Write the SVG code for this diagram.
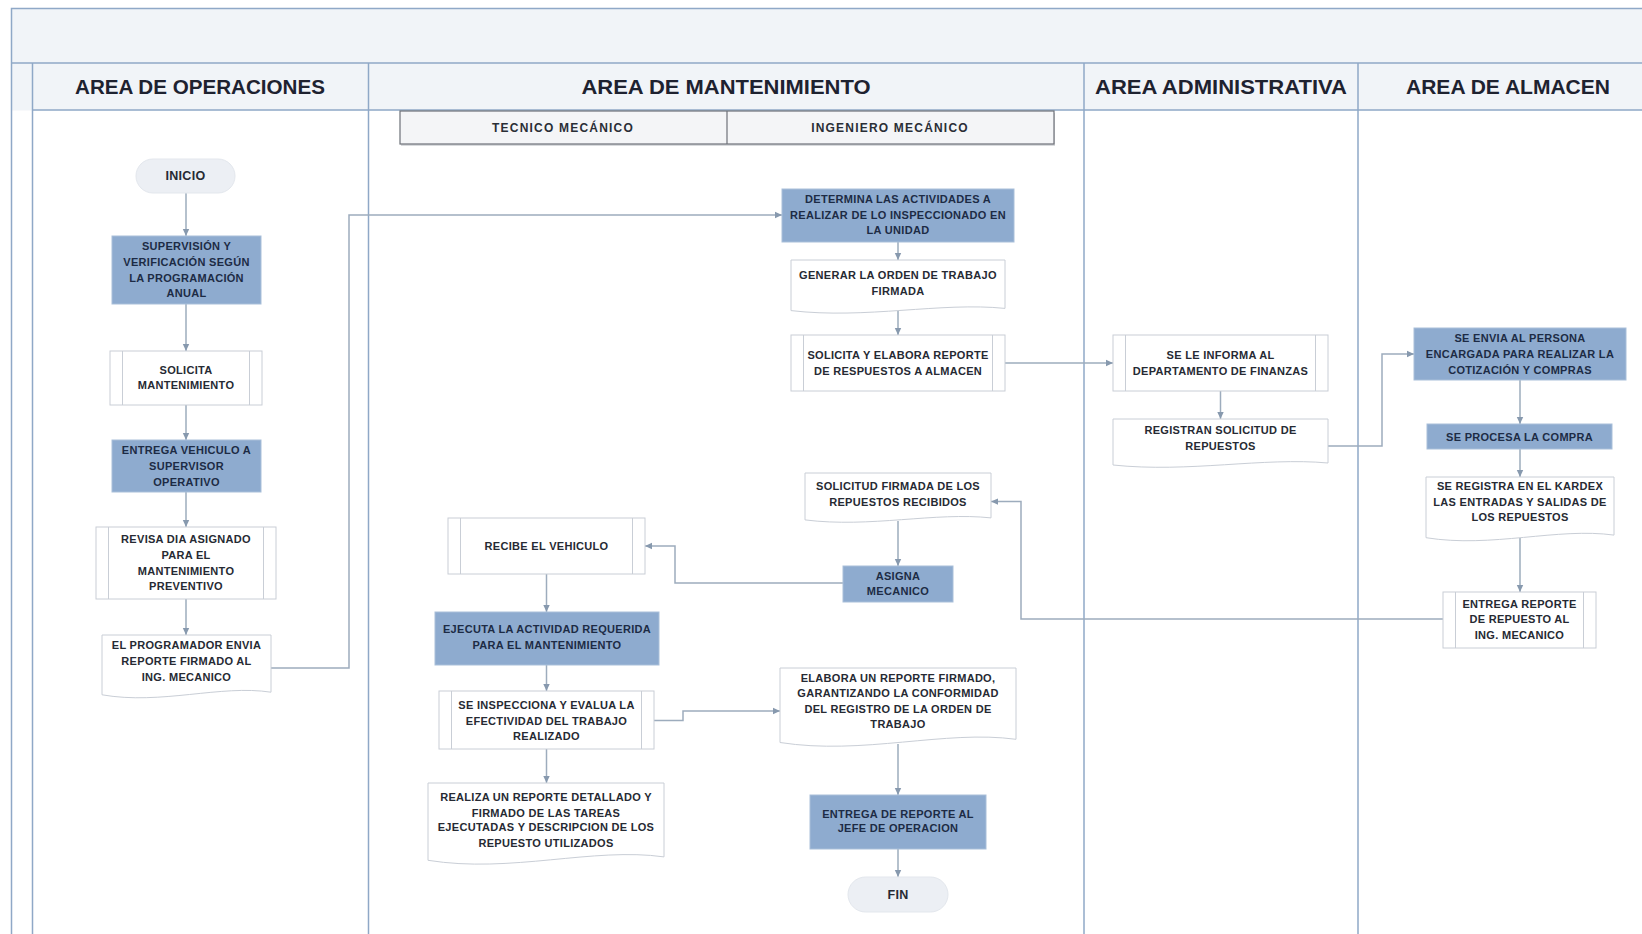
<svg xmlns="http://www.w3.org/2000/svg" width="1642" height="934" viewBox="0 0 1642 934">
<style>
.bg{fill:#ffffff}
.band{fill:#f1f4f8}
.lane{stroke:#8fa8c7;stroke-width:1.5;fill:none}
.box{fill:#ffffff;stroke:#c9ced6;stroke-width:1}
.pp{stroke:#c9ced6;stroke-width:1;fill:none}
.blue{fill:#8eabcf;stroke:#a9bfd9;stroke-width:1}
.term{fill:#eceff4;stroke:#e3e7ed;stroke-width:1}
.t{font-family:"Liberation Sans",Arial,sans-serif;font-weight:bold;font-size:11px;letter-spacing:0.3px;fill:#262a33;text-anchor:middle;dominant-baseline:central}
.tb{fill:#1d2b45}
.title{font-family:"Liberation Sans",Arial,sans-serif;font-weight:bold;font-size:20px;fill:#1e2230;text-anchor:middle;dominant-baseline:central}
.sub{font-family:"Liberation Sans",Arial,sans-serif;font-weight:bold;font-size:12px;letter-spacing:1.2px;fill:#2a2e36;text-anchor:middle;dominant-baseline:central}
.conn{stroke:#9dacbd;stroke-width:1.5;fill:none;marker-end:url(#arr)}
</style>
<defs>
<marker id="arr" markerUnits="userSpaceOnUse" markerWidth="8" markerHeight="8" refX="7" refY="4" orient="auto">
<path d="M0,0.8 L7,4 L0,7.2 Z" fill="#8799ae"/>
</marker>
</defs>
<rect class="bg" x="0" y="0" width="1642" height="934"/>
<g id="frame">
<rect class="band" x="11.5" y="8.5" width="1640" height="102"/>
<rect class="lane" x="11.5" y="8.5" width="1640" height="940"/>
<line class="lane" x1="11.5" y1="63" x2="1642" y2="63"/>
<line class="lane" x1="32.5" y1="110" x2="1642" y2="110"/>
<line class="lane" x1="32.5" y1="63" x2="32.5" y2="934"/>
<line class="lane" x1="368.5" y1="63" x2="368.5" y2="934"/>
<line class="lane" x1="1084" y1="63" x2="1084" y2="934"/>
<line class="lane" x1="1358" y1="63" x2="1358" y2="934"/>
<text class="title" x="200" y="87" textLength="250" lengthAdjust="spacingAndGlyphs">AREA DE OPERACIONES</text>
<text class="title" x="726" y="87" textLength="289" lengthAdjust="spacingAndGlyphs">AREA DE MANTENIMIENTO</text>
<text class="title" x="1221" y="87" textLength="252" lengthAdjust="spacingAndGlyphs">AREA ADMINISTRATIVA</text>
<text class="title" x="1508" y="87" textLength="204" lengthAdjust="spacingAndGlyphs">AREA DE ALMACEN</text>
</g>
<g id="subheader">
<rect x="401" y="113" width="654" height="33" fill="#d8dadd"/>
<rect x="400" y="111" width="654" height="33" fill="#f4f5f7" stroke="#6d7178" stroke-width="1.2"/>
<line x1="727" y1="111" x2="727" y2="144" stroke="#6d7178" stroke-width="1.2"/>
<text class="sub" x="563" y="127.5">TECNICO MECÁNICO</text>
<text class="sub" x="890" y="127.5">INGENIERO MECÁNICO</text>
</g>
<g id="connectors">
<path class="conn" d="M186,193 V236"/>
<path class="conn" d="M186,304 V351"/>
<path class="conn" d="M186,405 V440"/>
<path class="conn" d="M186,492 V527"/>
<path class="conn" d="M186,599 V635"/>
<path class="conn" d="M271,668 H349 V215 H782"/>
<path class="conn" d="M898,242 V260"/>
<path class="conn" d="M898,311 V335"/>
<path class="conn" d="M1005,363 H1113"/>
<path class="conn" d="M1220.5,391 V419"/>
<path class="conn" d="M1328,446 H1382 V354 H1414"/>
<path class="conn" d="M1520,380 V424"/>
<path class="conn" d="M1520,449 V477"/>
<path class="conn" d="M1520,538 V592"/>
<path class="conn" d="M1443,619 H1021 V501.6 H991"/>
<path class="conn" d="M898,521 V566"/>
<path class="conn" d="M843,583 H675 V546 H645"/>
<path class="conn" d="M546.5,574 V612"/>
<path class="conn" d="M546.5,665 V691"/>
<path class="conn" d="M654,720.5 H683 V711 H780"/>
<path class="conn" d="M546.5,749 V783"/>
<path class="conn" d="M898,744 V795"/>
<path class="conn" d="M898,849 V877"/>
</g>
<g id="inicio">
<rect class="term" x="136" y="159" width="99" height="34" rx="17"/>
<text class="t" x="185.5" y="176" style="font-size:12.5px">INICIO</text>
</g>
<g id="supervision">
<rect class="blue" x="112" y="236" width="149" height="68"/>
<text class="t tb" x="186.5" y="246.3">SUPERVISIÓN Y</text>
<text class="t tb" x="186.5" y="262">VERIFICACIÓN SEGÚN</text>
<text class="t tb" x="186.5" y="277.7">LA PROGRAMACIÓN</text>
<text class="t tb" x="186.5" y="293.4">ANUAL</text>
</g>
<g id="solicita-mant">
<rect class="box" x="110" y="351" width="152" height="54"/>
<path class="pp" d="M122.5,351 V405 M249.5,351 V405"/>
<text class="t" x="186" y="369.7">SOLICITA</text>
<text class="t" x="186" y="385.4">MANTENIMIENTO</text>
</g>
<g id="entrega-vehiculo">
<rect class="blue" x="112" y="440" width="149" height="52"/>
<text class="t tb" x="186.5" y="450.3">ENTREGA VEHICULO A</text>
<text class="t tb" x="186.5" y="466">SUPERVISOR</text>
<text class="t tb" x="186.5" y="481.7">OPERATIVO</text>
</g>
<g id="revisa-dia">
<rect class="box" x="96" y="527" width="180" height="72"/>
<path class="pp" d="M108.5,527 V599 M263.5,527 V599"/>
<text class="t" x="186" y="539.3">REVISA DIA ASIGNADO</text>
<text class="t" x="186" y="555">PARA EL</text>
<text class="t" x="186" y="570.7">MANTENIMIENTO</text>
<text class="t" x="186" y="586.4">PREVENTIVO</text>
</g>
<g id="programador">
<path class="box" d="M102,635 H271 V692.2 C220.3,684.4 161.2,705.2 102,694.8 Z"/>
<text class="t" x="186.5" y="645">EL PROGRAMADOR ENVIA</text>
<text class="t" x="186.5" y="660.8">REPORTE FIRMADO AL</text>
<text class="t" x="186.5" y="676.5">ING. MECANICO</text>
</g>
<g id="determina">
<rect class="blue" x="782" y="189" width="232" height="53"/>
<text class="t tb" x="898" y="199">DETERMINA LAS ACTIVIDADES A</text>
<text class="t tb" x="898" y="214.7">REALIZAR DE LO INSPECCIONADO EN</text>
<text class="t tb" x="898" y="230.4">LA UNIDAD</text>
</g>
<g id="generar-orden">
<path class="box" d="M791,260 H1005 V308.4 C940.8,301.8 865.9,319.4 791,310.6 Z"/>
<text class="t" x="898" y="275.4">GENERAR LA ORDEN DE TRABAJO</text>
<text class="t" x="898" y="291">FIRMADA</text>
</g>
<g id="solicita-elabora">
<rect class="box" x="791" y="335" width="214" height="56"/>
<path class="pp" d="M803.5,335 V391 M992.5,335 V391"/>
<text class="t" x="898" y="355">SOLICITA Y ELABORA REPORTE</text>
<text class="t" x="898" y="370.7">DE RESPUESTOS A ALMACEN</text>
</g>
<g id="informa-finanzas">
<rect class="box" x="1113" y="335" width="215" height="56"/>
<path class="pp" d="M1125.5,335 V391 M1315.5,335 V391"/>
<text class="t" x="1220.5" y="355">SE LE INFORMA AL</text>
<text class="t" x="1220.5" y="370.7">DEPARTAMENTO DE FINANZAS</text>
</g>
<g id="registran">
<path class="box" d="M1113,419 H1328 V463 C1263.5,457 1188.3,473 1113,465 Z"/>
<text class="t" x="1220.5" y="430.4">REGISTRAN SOLICITUD DE</text>
<text class="t" x="1220.5" y="446">REPUESTOS</text>
</g>
<g id="envia-persona">
<rect class="blue" x="1414" y="328" width="212" height="52"/>
<text class="t tb" x="1520" y="338.2">SE ENVIA AL PERSONA</text>
<text class="t tb" x="1520" y="354">ENCARGADA PARA REALIZAR LA</text>
<text class="t tb" x="1520" y="369.7">COTIZACIÓN Y COMPRAS</text>
</g>
<g id="procesa-compra">
<rect class="blue" x="1427" y="424" width="185" height="25"/>
<text class="t tb" x="1519.5" y="436.7">SE PROCESA LA COMPRA</text>
</g>
<g id="kardex">
<path class="box" d="M1426,477 H1614 V535.1 C1557.6,527.2 1491.8,548.3 1426,537.7 Z"/>
<text class="t" x="1520" y="486">SE REGISTRA EN EL KARDEX</text>
<text class="t" x="1520" y="501.6">LAS ENTRADAS Y SALIDAS DE</text>
<text class="t" x="1520" y="517.3">LOS REPUESTOS</text>
</g>
<g id="entrega-repuesto">
<rect class="box" x="1443" y="592" width="153" height="56"/>
<path class="pp" d="M1455.5,592 V648 M1583.5,592 V648"/>
<text class="t" x="1519.5" y="604.2">ENTREGA REPORTE</text>
<text class="t" x="1519.5" y="619">DE REPUESTO AL</text>
<text class="t" x="1519.5" y="634.6">ING. MECANICO</text>
</g>
<g id="solicitud-firmada">
<path class="box" d="M805,473 H991 V517.9 C935.2,511.8 870.1,528.1 805,519.9 Z"/>
<text class="t" x="898" y="486">SOLICITUD FIRMADA DE LOS</text>
<text class="t" x="898" y="501.6">REPUESTOS RECIBIDOS</text>
</g>
<g id="asigna-mecanico">
<rect class="blue" x="843" y="566" width="110" height="36"/>
<text class="t tb" x="898" y="575.5">ASIGNA</text>
<text class="t tb" x="898" y="591">MECANICO</text>
</g>
<g id="recibe-vehiculo">
<rect class="box" x="448" y="518" width="197" height="56"/>
<path class="pp" d="M460.5,518 V574 M632.5,518 V574"/>
<text class="t" x="546.5" y="546">RECIBE EL VEHICULO</text>
</g>
<g id="ejecuta">
<rect class="blue" x="435" y="612" width="224" height="53"/>
<text class="t tb" x="547" y="629.4">EJECUTA LA ACTIVIDAD REQUERIDA</text>
<text class="t tb" x="547" y="645">PARA EL MANTENIMIENTO</text>
</g>
<g id="inspecciona">
<rect class="box" x="439" y="691" width="215" height="58"/>
<path class="pp" d="M451.5,691 V749 M641.5,691 V749"/>
<text class="t" x="546.5" y="704.8">SE INSPECCIONA Y EVALUA LA</text>
<text class="t" x="546.5" y="720.5">EFECTIVIDAD DEL TRABAJO</text>
<text class="t" x="546.5" y="736.2">REALIZADO</text>
</g>
<g id="realiza-reporte">
<path class="box" d="M428,783 H664 V856.9 C593.2,846.8 510.6,873.7 428,860.3 Z"/>
<text class="t" x="546" y="797">REALIZA UN REPORTE DETALLADO Y</text>
<text class="t" x="546" y="812.6">FIRMADO DE LAS TAREAS</text>
<text class="t" x="546" y="827.3">EJECUTADAS Y DESCRIPCION DE LOS</text>
<text class="t" x="546" y="843">REPUESTO UTILIZADOS</text>
</g>
<g id="elabora-reporte">
<path class="box" d="M780,668 H1016 V739.3 C945.2,729.6 862.6,755.5 780,742.5 Z"/>
<text class="t" x="898" y="677.5">ELABORA UN REPORTE FIRMADO,</text>
<text class="t" x="898" y="693.3">GARANTIZANDO LA CONFORMIDAD</text>
<text class="t" x="898" y="709">DEL REGISTRO DE LA ORDEN DE</text>
<text class="t" x="898" y="723.6">TRABAJO</text>
</g>
<g id="entrega-jefe">
<rect class="blue" x="810" y="795" width="176" height="54"/>
<text class="t tb" x="898" y="813.7">ENTREGA DE REPORTE AL</text>
<text class="t tb" x="898" y="828.3">JEFE DE OPERACION</text>
</g>
<g id="fin">
<rect class="term" x="848" y="877" width="100" height="35" rx="17.5"/>
<text class="t" x="898" y="894.5" style="font-size:12.5px">FIN</text>
</g>
</svg>
